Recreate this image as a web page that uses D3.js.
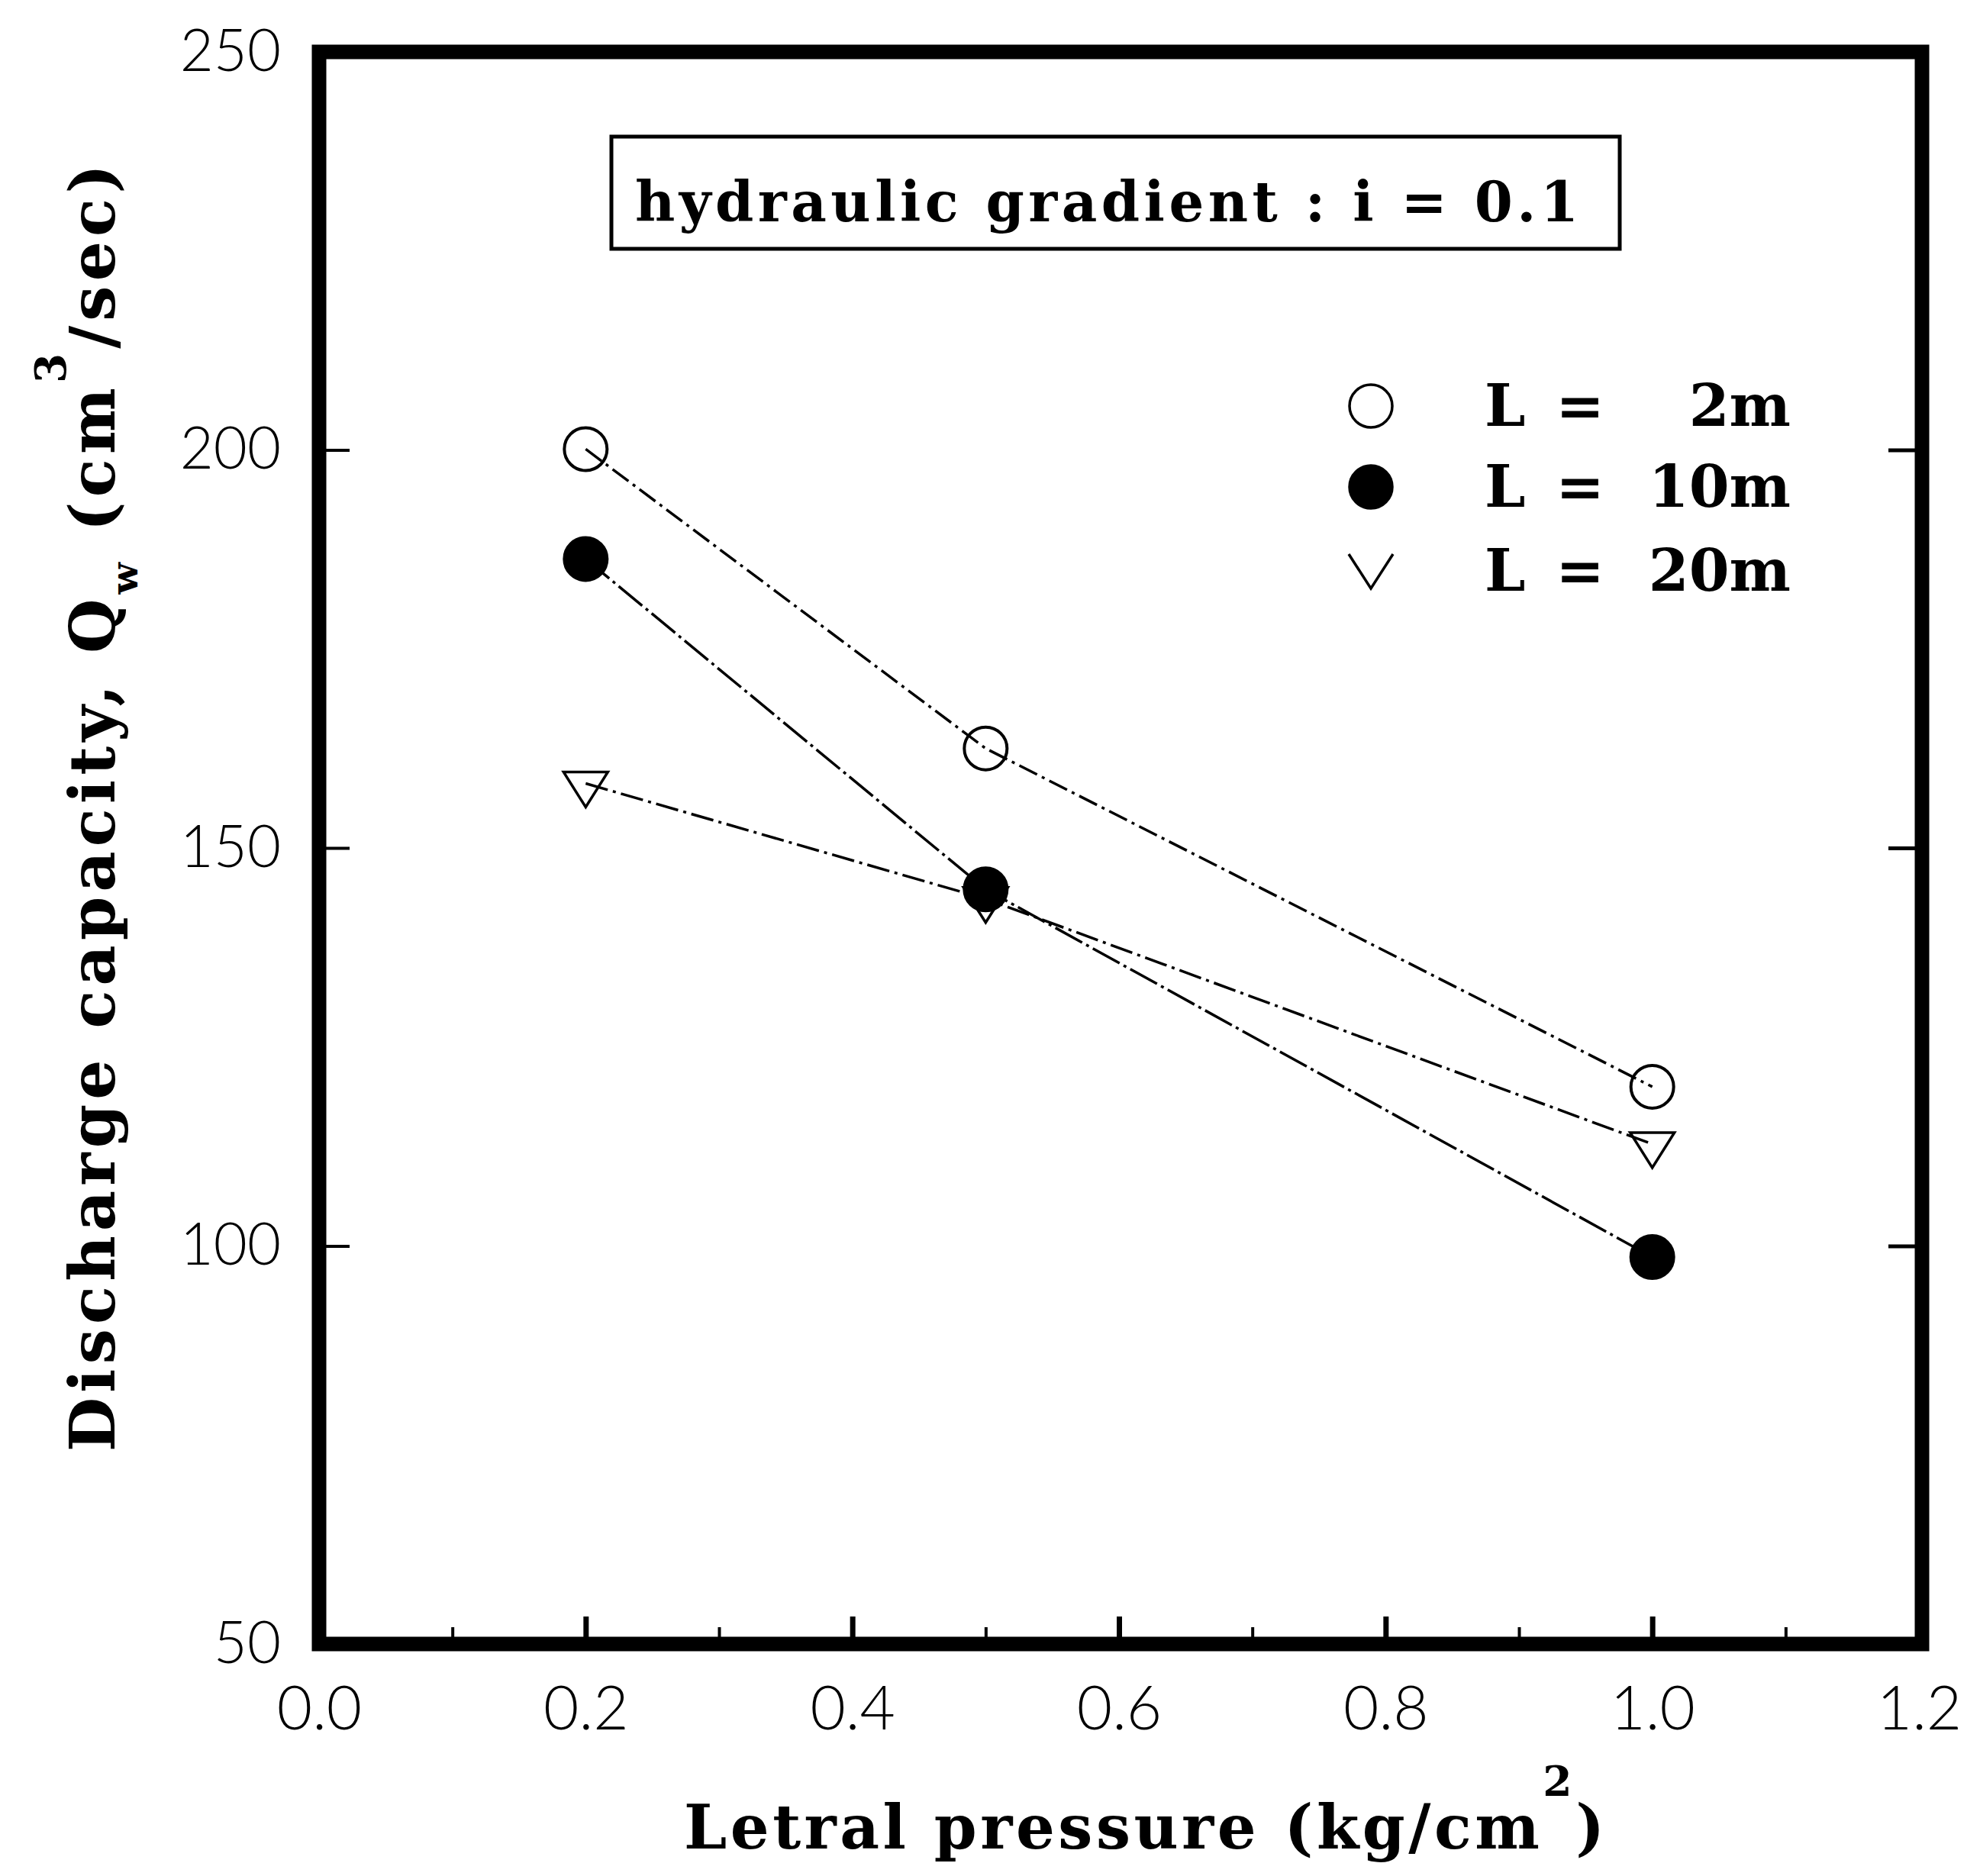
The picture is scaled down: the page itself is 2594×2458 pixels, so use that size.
<!DOCTYPE html>
<html>
<head>
<meta charset="utf-8">
<script src="https://cdn.jsdelivr.net/npm/d3@7"></script>
<style>
  body { margin: 0; background: #fff; }
  .tick text { font-family: "Lato", "DejaVu Sans", sans-serif; font-weight: 300; fill: #000; }
  .bold { font-family: "DejaVu Serif", serif; font-weight: bold; fill: #000; }
</style>
</head>
<body>
<div id="chart"></div>
<script>
// data
var pressure = [0.2, 0.5, 1.0];            // lateral pressure, kg/cm2
var q2m  = [200.1, 162.5, 120.0];           // L = 2m
var q10m = [186.3, 144.8, 98.6];            // L = 10m
var q20m = [158.1, 143.6, 112.8];           // L = 20m
var lengths = ["2m", "10m", "20m"];
var xTicks = [0.0, 0.2, 0.4, 0.6, 0.8, 1.0, 1.2];
var xMinor = [0.1, 0.3, 0.5, 0.7, 0.9, 1.1];
var yTicks = [50, 100, 150, 200, 250];

var W = 2594, H = 2458;
var svg = d3.select("#chart").append("svg")
    .attr("width", W)
    .attr("height", H);

var x = d3.scaleLinear().domain([0, 1.2]).range([418, 2514]);
var y = d3.scaleLinear().domain([50, 250]).range([2154, 68]);

// ticks + labels (ticks point inward)
var bottom = svg.append("g")
    .attr("transform", "translate(0," + y(50) + ")")
    .call(d3.axisBottom(x).tickValues(xTicks).tickSize(-36).tickPadding(55).tickFormat(d3.format(".1f")));
bottom.select(".domain").remove();
bottom.selectAll(".tick line").attr("stroke", "#000").attr("stroke-width", 7);
bottom.selectAll(".tick text").attr("font-size", 80);

var bottomMinor = svg.append("g")
    .attr("transform", "translate(0," + y(50) + ")")
    .call(d3.axisBottom(x).tickValues(xMinor).tickSize(-22).tickFormat(""));
bottomMinor.select(".domain").remove();
bottomMinor.selectAll(".tick line").attr("stroke", "#000").attr("stroke-width", 4);

var left = svg.append("g")
    .attr("transform", "translate(" + x(0) + ",0)")
    .call(d3.axisLeft(y).tickValues(yTicks).tickSize(-40).tickPadding(50).tickFormat(d3.format("d")));
left.select(".domain").remove();
left.selectAll(".tick line").attr("stroke", "#000").attr("stroke-width", 4);
left.selectAll(".tick text").attr("font-size", 76);

var right = svg.append("g")
    .attr("transform", "translate(" + x(1.2) + ",0)")
    .call(d3.axisRight(y).tickValues([100, 150, 200]).tickSize(-40).tickFormat(""));
right.select(".domain").remove();
right.selectAll(".tick line").attr("stroke", "#000").attr("stroke-width", 5);

// heavy frame
svg.append("rect")
    .attr("x", x(0)).attr("y", y(250))
    .attr("width", x(1.2) - x(0) + 4).attr("height", y(50) - y(250))
    .attr("fill", "none").attr("stroke", "#000").attr("stroke-width", 19);

// series
var series = [
  { name: "2m",  values: q2m,  marker: "open",   dash: "26,7,4,7" },
  { name: "20m", values: q20m, marker: "tri",    dash: "30,7,4,7" },
  { name: "10m", values: q10m, marker: "filled", dash: "40,6,4,6" }
];

var line = d3.line()
    .x(function(d) { return x(d[0]); })
    .y(function(d) { return y(d[1]); });

var triPath = "M-29,-15 L29,-15 L0,31 Z";

series.forEach(function(s) {
  var pts = pressure.map(function(p, i) { return [p, s.values[i]]; });
  svg.append("path")
      .datum(pts)
      .attr("d", line)
      .attr("fill", "none")
      .attr("stroke", "#000")
      .attr("stroke-width", 3.5)
      .attr("stroke-dasharray", s.dash);
});

series.forEach(function(s) {
  var pts = pressure.map(function(p, i) { return [p, s.values[i]]; });
  var g = svg.append("g");
  if (s.marker === "tri") {
    g.selectAll("path").data(pts).enter().append("path")
        .attr("d", triPath)
        .attr("transform", function(d) { return "translate(" + x(d[0]) + "," + y(d[1]) + ")"; })
        .attr("fill", "none").attr("stroke", "#000").attr("stroke-width", 3.5);
  } else {
    g.selectAll("circle").data(pts).enter().append("circle")
        .attr("cx", function(d) { return x(d[0]); })
        .attr("cy", function(d) { return y(d[1]); })
        .attr("r", 28)
        .attr("fill", s.marker === "filled" ? "#000" : "none")
        .attr("stroke", "#000").attr("stroke-width", 4);
  }
});

// title box
svg.append("rect")
    .attr("x", 801).attr("y", 179).attr("width", 1321).attr("height", 147)
    .attr("fill", "none").attr("stroke", "#000").attr("stroke-width", 5);
svg.append("text").attr("class", "bold")
    .attr("x", 832).attr("y", 290)
    .attr("font-size", 72)
    .attr("textLength", 1236).attr("lengthAdjust", "spacing")
    .text("hydraulic gradient : i = 0.1");

// legend
var legY = [532, 638, 748];
var legMarker = ["open", "filled", "V"];
lengths.forEach(function(len, i) {
  var cy = legY[i];
  if (legMarker[i] === "V") {
    svg.append("path")
        .attr("d", "M-29,-22 L0,23 L29,-22")
        .attr("transform", "translate(1796," + cy + ")")
        .attr("fill", "none").attr("stroke", "#000").attr("stroke-width", 3.5);
  } else {
    svg.append("circle")
        .attr("cx", 1796).attr("cy", cy).attr("r", 28)
        .attr("fill", legMarker[i] === "filled" ? "#000" : "none")
        .attr("stroke", "#000").attr("stroke-width", 3.5);
  }
  var base = cy + 26;
  svg.append("text").attr("class", "bold").attr("font-size", 76)
      .attr("x", 1945).attr("y", base).text("L");
  svg.append("text").attr("class", "bold").attr("font-size", 76)
      .attr("x", 2070).attr("y", base).attr("text-anchor", "middle").text("=");
  svg.append("text").attr("class", "bold").attr("font-size", 76)
      .attr("x", 2346).attr("y", base).attr("text-anchor", "end").text(len);
});

// x axis title
var xt = svg.append("text").attr("class", "bold")
    .attr("x", 896).attr("y", 2422)
    .attr("font-size", 80)
    .attr("textLength", 1206).attr("lengthAdjust", "spacing");
xt.append("tspan").text("Letral pressure (kg/cm");
xt.append("tspan").attr("font-size", 55).attr("dy", -69).text("2");
xt.append("tspan").attr("dy", 69).text(")");

// y axis title
var yt = svg.append("text").attr("class", "bold")
    .attr("transform", "translate(150,1902) rotate(-90)")
    .attr("font-size", 82)
    .attr("textLength", 1687).attr("lengthAdjust", "spacing");
yt.append("tspan").text("Discharge capacity, Q");
yt.append("tspan").attr("font-size", 48).attr("dy", 30).text("w");
yt.append("tspan").attr("dy", -30).text(" (cm");
yt.append("tspan").attr("font-size", 56).attr("dy", -64).text("3");
yt.append("tspan").attr("dy", 64).text("/sec)");
</script>
</body>
</html>
